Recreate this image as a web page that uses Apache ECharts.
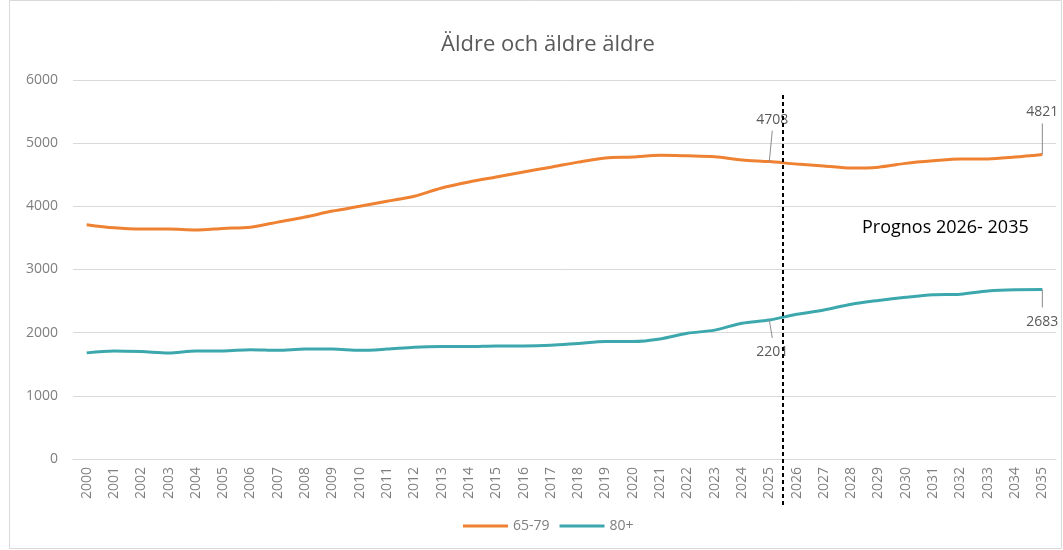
<!doctype html>
<html>
<head>
<meta charset="UTF-8">
<title>Äldre och äldre äldre</title>
<script src="https://cdn.jsdelivr.net/npm/echarts@6/dist/echarts.min.js"></script>
<style>
  html, body { margin: 0; padding: 0; background: #fff; }
  #main { width: 1063px; height: 550px; }
</style>
</head>
<body>
<div id="main"></div>
<script>
// år 2000-2035
var years = [];
for (var y = 2000; y <= 2035; y++) years.push(String(y));

// 65-79 år
var age6579 = [3710, 3660, 3640, 3640, 3625, 3650, 3670, 3750, 3830, 3925,
               4000, 4080, 4160, 4290, 4385, 4465, 4545, 4620, 4700, 4765,
               4780, 4810, 4800, 4785, 4735, 4708, 4670, 4640, 4605, 4620,
               4680, 4720, 4750, 4750, 4780, 4821];
// 80+ år
var age80 = [1680, 1710, 1700, 1680, 1710, 1710, 1730, 1720, 1740, 1740,
             1720, 1740, 1770, 1780, 1780, 1790, 1790, 1800, 1830, 1860,
             1860, 1900, 1990, 2040, 2150, 2201, 2290, 2360, 2450, 2510,
             2560, 2600, 2610, 2660, 2680, 2683];

var labelIdx = [25, 35];   // punkter med dataetikett (2025, 2035)
var prognosStart = 25;     // streckad linje mellan 2025 och 2026

var FONT = 'Open Sans';
var myChart = echarts.init(document.getElementById('main'));
var option = {
    animation: false,
    title: {
        text: 'Äldre och äldre äldre',
        left: 436,
        top: 29,
        textStyle: { fontFamily: FONT, fontSize: 22, fontWeight: 'normal', color: '#595959' }
    },
    legend: {
        bottom: 12,
        left: 458,
        itemWidth: 45,
        itemHeight: 3,
        itemGap: 10,
        icon: 'rect',
        textStyle: { fontFamily: FONT, fontSize: 14, color: '#7f7f7f' },
        data: ['65-79', '80+']
    },
    grid: { left: 73, right: 7, top: 80, bottom: 91 },
    xAxis: {
        type: 'category',
        data: years,
        boundaryGap: true,
        axisLine: { lineStyle: { color: '#d9d9d9' } },
        axisTick: { show: false },
        axisLabel: { rotate: 90, interval: 0, fontFamily: FONT, fontSize: 14, color: '#7f7f7f', margin: 8 }
    },
    yAxis: {
        type: 'value',
        min: 0,
        max: 6000,
        interval: 1000,
        axisLine: { show: false },
        axisTick: { show: false },
        splitLine: { lineStyle: { color: '#d9d9d9' } },
        axisLabel: {
            fontFamily: FONT, fontSize: 14, color: '#7f7f7f', margin: 15,
            formatter: function (v) { return String(v); }
        }
    },
    series: [
        {
            name: '65-79',
            type: 'line',
            data: age6579,
            smooth: 0.3,
            symbol: 'none',
            lineStyle: { width: 3, color: '#EE8232' },
            itemStyle: { color: '#EE8232' }
        },
        {
            name: '80+',
            type: 'line',
            data: age80,
            smooth: 0.3,
            symbol: 'none',
            lineStyle: { width: 3, color: '#3CA8AE' },
            itemStyle: { color: '#3CA8AE' }
        }
    ]
};
myChart.setOption(option);

// dataetiketter med hjälplinjer, placerade från datapunkternas pixlar
var graphics = [
    {
        type: 'rect',
        shape: { x: 9.5, y: 0.5, width: 1052, height: 548 },
        style: { fill: 'none', stroke: '#d9d9d9', lineWidth: 1 },
        silent: true
    }
];
function addLabel(seriesIndex, arr, idx, up) {
    var p = myChart.convertToPixel({ seriesIndex: seriesIndex }, [idx, arr[idx]]);
    var dx = idx === prognosStart ? 3 : 0;
    var textY = up ? p[1] - 42 : p[1] + 32;
    var lineEnd = up ? p[1] - 31 : p[1] + 18;
    graphics.push({
        type: 'line',
        shape: { x1: p[0], y1: p[1], x2: p[0] + dx, y2: lineEnd },
        style: { stroke: '#8c8c8c', lineWidth: 1 },
        z: 5
    });
    graphics.push({
        type: 'text',
        x: p[0] + dx,
        y: textY,
        style: {
            text: String(arr[idx]), fontFamily: FONT, fontSize: 14, fill: '#595959',
            align: 'center', verticalAlign: 'middle'
        },
        z: 5
    });
}
labelIdx.forEach(function (i) {
    addLabel(0, age6579, i, true);
    addLabel(1, age80, i, false);
});

// streckad prognoslinje + text
var x0 = myChart.convertToPixel({ xAxisIndex: 0 }, prognosStart);
var x1 = myChart.convertToPixel({ xAxisIndex: 0 }, prognosStart + 1);
var xm = Math.round((x0 + x1) / 2);
graphics.push({
    type: 'line',
    shape: { x1: xm, y1: 95, x2: xm, y2: 508 },
    style: { stroke: '#000', lineWidth: 2, lineDash: [4, 3] },
    z: 10
});
graphics.push({
    type: 'text',
    x: 862,
    y: 228,
    style: { text: 'Prognos 2026- 2035', fontFamily: FONT, fontSize: 18, fill: '#000', verticalAlign: 'middle' }
});
myChart.setOption({ graphic: graphics });
</script>
</body>
</html>
